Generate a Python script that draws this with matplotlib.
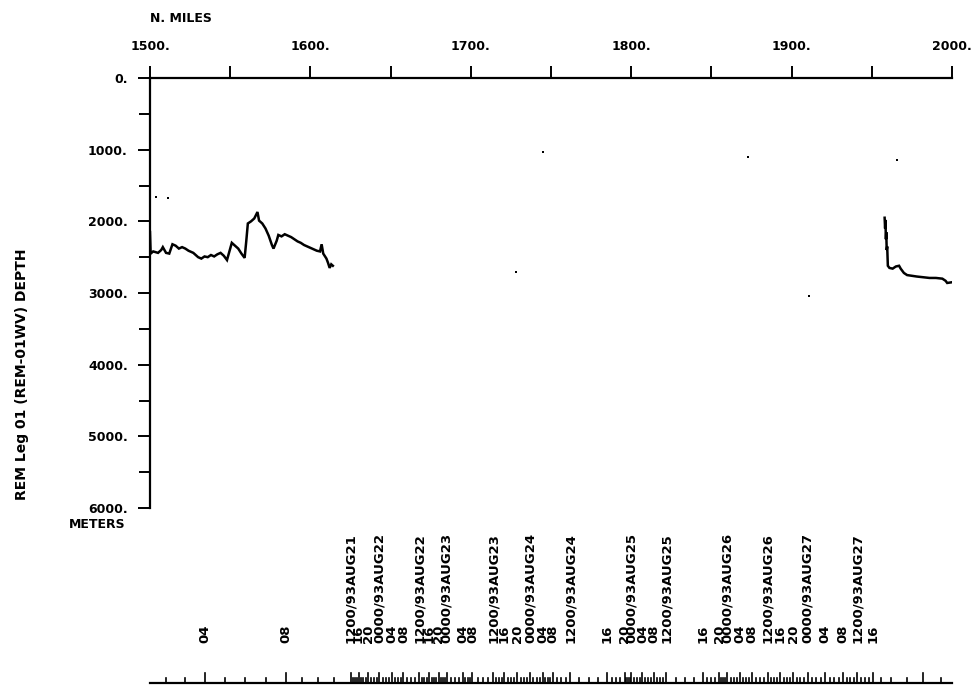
import numpy as np
import matplotlib
matplotlib.use("Agg")
import matplotlib.pyplot as plt
from matplotlib.ticker import MultipleLocator, FuncFormatter

plt.rcParams["font.family"] = "DejaVu Sans"
plt.rcParams["font.weight"] = "bold"

# depth profile, first stretch of the leg (n. miles / metres)
seg1_miles = [1500.0, 1500.4, 1502, 1505, 1507, 1508, 1510, 1512, 1514, 1516, 1518, 1520,
              1522, 1524, 1527, 1530, 1532, 1534, 1536, 1538, 1540, 1542, 1544, 1546,
              1548, 1550, 1551, 1553, 1555, 1557, 1559, 1560, 1561, 1563, 1565, 1567,
              1568, 1570, 1572, 1574, 1576, 1577, 1579, 1580, 1582, 1584, 1586, 1588,
              1590, 1592, 1594, 1596, 1598, 1600, 1602, 1604, 1606, 1607, 1608, 1610,
              1611, 1612, 1613, 1614]
seg1_depth = [2150, 2450, 2420, 2440, 2400, 2360, 2440, 2450, 2320, 2340, 2380, 2360,
              2380, 2410, 2440, 2500, 2520, 2490, 2500, 2470, 2490, 2460, 2440, 2480,
              2540, 2380, 2300, 2340, 2380, 2450, 2510, 2280, 2030, 2000, 1960, 1870,
              1990, 2030, 2100, 2200, 2330, 2380, 2270, 2190, 2210, 2180, 2200, 2220,
              2250, 2280, 2300, 2330, 2350, 2370, 2390, 2410, 2420, 2320, 2450, 2520,
              2580, 2650, 2600, 2620]

# depth profile, last stretch of the leg
seg2_miles = [1958.0, 1958.3, 1958.5, 1958.8, 1959.0, 1959.3, 1959.6, 1960, 1961, 1963,
              1965, 1967, 1968, 1970, 1972, 1975, 1978, 1982, 1986, 1990, 1994, 1996,
              1997, 2000]
seg2_depth = [1950, 2100, 1980, 2250, 2150, 2400, 2350, 2620, 2650, 2660,
              2630, 2620, 2660, 2720, 2750, 2760, 2770, 2780, 2790, 2790, 2800, 2830,
              2860, 2850]

# isolated soundings in the gap
spot_miles = [1504, 1511, 1745, 1728, 1873, 1911, 1966]
spot_depth = [1660, 1680, 1030, 2700, 1100, 3040, 1140]

# ship track: hours after 0000/93AUG21 and distance run
track_hours = [2, 4, 8, 12, 16, 20, 24, 28, 32, 36, 40, 44, 48, 52, 56, 60, 64, 68,
               72, 76, 80, 84, 88, 92, 96, 100, 104, 108, 112, 116, 120, 124, 128, 132,
               136, 140, 144, 148, 152, 156, 160, 161, 162, 163, 164, 165]
track_miles = [1510, 1534, 1585, 1625, 1630, 1636, 1643, 1651, 1658, 1668, 1674, 1680,
               1685, 1695, 1701, 1714, 1721, 1729, 1737, 1745, 1751, 1762, 1785, 1796,
               1800, 1807, 1814, 1822, 1845, 1855, 1860, 1868, 1875, 1885, 1893, 1901,
               1910, 1921, 1932, 1941, 1951, 1956, 1962, 1972, 1982, 1993]
label_first_hour = 4
label_last_hour = 160

W, H = 972, 686
fig = plt.figure(figsize=(W / 100, H / 100), dpi=100)

ax_l, ax_r, ax_t, ax_b = 150, 952, 78, 508
ax = fig.add_axes([ax_l / W, 1 - ax_b / H, (ax_r - ax_l) / W, (ax_b - ax_t) / H])
ax.plot(seg1_miles, seg1_depth, color="black", lw=1.8, solid_joinstyle="miter")
ax.plot(seg2_miles, seg2_depth, color="black", lw=1.8, solid_joinstyle="miter")
ax.scatter(spot_miles, spot_depth, s=2.5, color="black", marker="s", lw=0)

ax.set_xlim(1500, 2000)
ax.set_ylim(6000, 0)
for side in ("right", "bottom"):
    ax.spines[side].set_visible(False)
for side in ("top", "left"):
    ax.spines[side].set_linewidth(1.6)
ax.xaxis.tick_top()
ax.xaxis.set_major_locator(MultipleLocator(100))
ax.xaxis.set_minor_locator(MultipleLocator(50))
ax.yaxis.set_major_locator(MultipleLocator(1000))
ax.yaxis.set_minor_locator(MultipleLocator(500))
dot_fmt = FuncFormatter(lambda v, p: f"{v:.0f}.")
ax.xaxis.set_major_formatter(dot_fmt)
ax.yaxis.set_major_formatter(dot_fmt)
ax.tick_params(axis="x", which="both", direction="out", length=9, width=1.4,
               pad=9, labelsize=9)
ax.tick_params(axis="y", which="both", direction="out", length=9, width=1.4,
               pad=7, labelsize=9)
ax.tick_params(axis="y", which="minor", length=8)

fig.text(ax_l / W, 1 - 18 / H, "N. MILES", fontsize=9, ha="left", va="center")
fig.text(125 / W, 1 - 524 / H, "METERS", fontsize=9, ha="right", va="center")
fig.text(22 / W, 1 - 374 / H, "REM Leg 01 (REM-01WV) DEPTH", fontsize=10,
         rotation=90, ha="center", va="center")

# time axis along the track
tax = fig.add_axes([ax_l / W, 0, (ax_r - ax_l) / W, 166 / H])
tax.set_xlim(1500, 2000)
tax.set_ylim(0, 166)
tax.axis("off")
tax.plot([1500, 2000], [3, 3], color="black", lw=1.6, clip_on=False)

hours = np.arange(track_hours[0], track_hours[-1] + 1)
hour_miles = np.interp(hours, track_hours, track_miles)
for h, m in zip(hours, hour_miles):
    top = 13 if h % 4 == 0 else 8
    tax.plot([m, m], [3, top], color="black", lw=1.2)

for h, m in zip(hours, hour_miles):
    if h % 4 or h < label_first_hour or h > label_last_hour:
        continue
    day, hh = 21 + h // 24, h % 24
    txt = f"{hh:02d}00/93AUG{day}" if hh % 12 == 0 else f"{hh:02d}"
    tax.text(m, 43, txt, rotation=90, ha="center", va="bottom", fontsize=9.5)

fig.savefig("out.png", dpi=100)
